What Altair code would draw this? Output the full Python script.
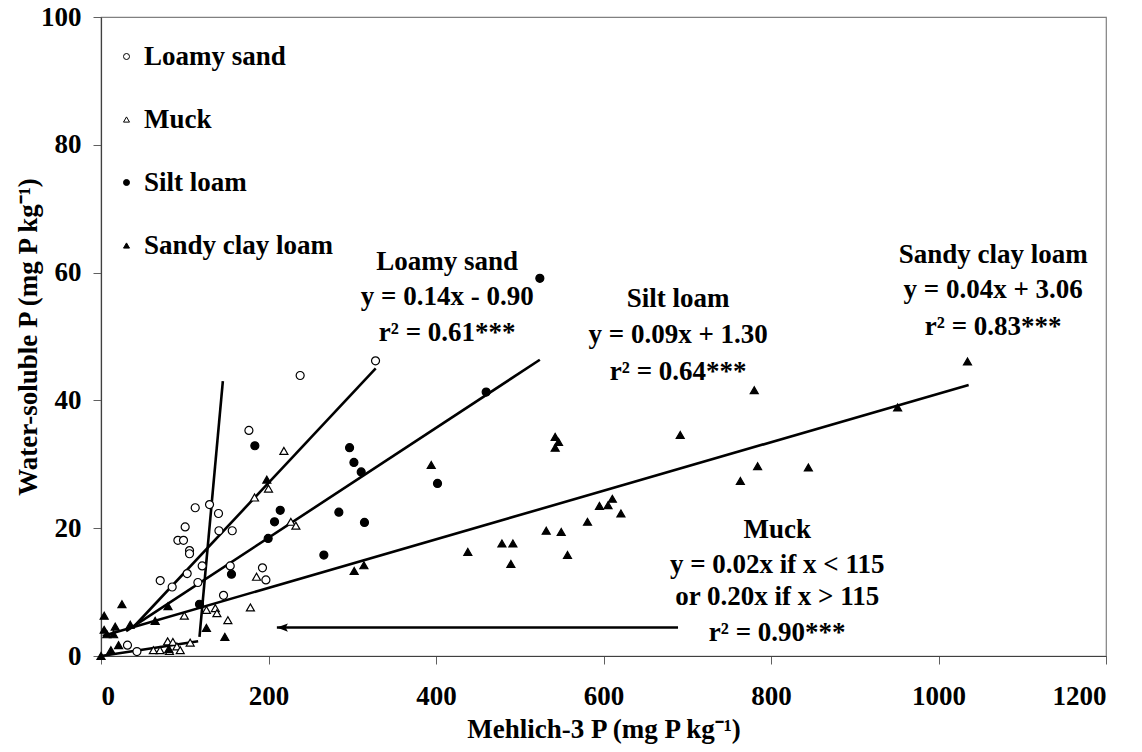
import altair as alt
import pandas as pd

FONT = "Liberation Serif"
FONT_SIZE = 27
SOILS = ["Loamy sand", "Muck", "Silt loam", "Sandy clay loam"]

# Mehlich-3 P (x) and water-soluble P (y), mg P kg-1, by soil type
loamy_sand_x = [31.6, 42.9, 70.7, 85.0, 91.8, 98.5, 100.5, 102.9, 105.7, 105.7, 112.5, 115.7,
                120.8, 129.6, 140.3, 140.8, 146.3, 154.3, 156.7, 176.6, 192.8, 196.9, 237.8, 327.8]
loamy_sand_y = [1.7, 0.7, 11.8, 10.8, 18.1, 18.1, 20.2, 12.9, 16.5, 16.0, 23.2, 11.5,
                14.1, 23.7, 22.3, 19.6, 9.5, 14.1, 19.6, 35.3, 13.8, 11.9, 43.9, 46.2]

muck_x = [62.5, 70.5, 79.6, 81.8, 85.8, 90.6, 94.6, 106.5, 99.5, 125.9, 136.5, 138.4,
          151.5, 178.4, 185.7, 183.3, 200.0, 218.4, 226.7, 232.7]
muck_y = [0.9, 0.9, 2.3, 0.8, 2.2, 1.5, 0.9, 2.1, 6.3, 7.2, 7.5, 6.7,
          5.6, 7.6, 12.4, 24.8, 26.2, 32.1, 21.0, 20.4]

silt_loam_x = [117.6, 155.8, 183.7, 199.6, 207.2, 214.0, 266.1, 284.0, 296.8, 302.0,
               310.7, 314.6, 401.8, 459.9, 524.0]
silt_loam_y = [8.1, 12.8, 32.9, 18.4, 21.0, 22.8, 15.8, 22.5, 32.6, 30.3,
               28.8, 20.9, 27.0, 41.3, 59.1]

sandy_clay_loam_x = [0.0, 3.8, 3.8, 7.0, 15.0, 17.0, 11.8, 21.0, 25.0, 34.9, 64.7, 80.0,
                     81.0, 125.9, 147.9, 198.0, 302.3, 313.9, 394.3, 438.0, 478.7, 489.4,
                     491.8, 531.6, 542.3, 546.3, 542.3, 549.5, 557.0, 580.9, 595.2, 605.4,
                     610.6, 620.8, 691.6, 763.4, 780.0, 784.0, 844.6, 951.2, 1034.6]
sandy_clay_loam_y = [0.0, 6.3, 4.1, 3.4, 3.4, 4.6, 0.9, 1.7, 8.1, 4.9, 5.5, 7.8,
                     1.1, 4.4, 3.0, 27.6, 13.3, 14.2, 29.9, 16.3, 17.6, 14.4,
                     17.6, 19.6, 34.3, 33.5, 32.6, 19.4, 15.8, 21.0, 23.5, 23.6,
                     24.6, 22.3, 34.6, 27.4, 41.6, 29.7, 29.5, 38.9, 46.1]

# Linear fits: slope, intercept and x range of each fitted line
fit_names = ["Loamy sand", "Silt loam", "Sandy clay loam"]
fit_slopes = [0.14, 0.086, 0.038]
fit_intercepts = [-0.90, 1.30, 3.06]
fit_x_from = [38.0, 30.0, 2.0]
fit_x_to = [328.0, 524.0, 1036.0]

# Muck split-line fit: low segment and steep segment
muck_low_slope = 0.02
muck_break_x = 116.0
muck_steep_x = [117.6, 145.5]
muck_steep_y = [3.0, 43.0]

# Arrow pointing at the muck break
arrow_x_tail = 689.0
arrow_x_head = 210.0
arrow_y = 4.46

# Fit annotations (label, x, y)
note_text = ["Loamy sand", "y = 0.14x - 0.90", "r² = 0.61***",
             "Silt loam", "y = 0.09x + 1.30", "r² = 0.64***",
             "Sandy clay loam", "y = 0.04x + 3.06", "r² = 0.83***",
             "Muck", "y = 0.02x if x < 115", " or 0.20x if x > 115", "r² = 0.90***"]
note_x = [413.4, 413.4, 413.4,
          689.2, 689.2, 689.2,
          1065.3, 1065.3, 1065.3,
          807.4, 807.4, 807.4, 807.4]
note_y = [61.7, 56.2, 50.5,
          55.9, 50.2, 44.5,
          62.8, 57.2, 51.5,
          19.7, 14.2, 9.2, 3.6]

rows = []
for soil, xs, ys in [("Loamy sand", loamy_sand_x, loamy_sand_y),
                     ("Muck", muck_x, muck_y),
                     ("Silt loam", silt_loam_x, silt_loam_y),
                     ("Sandy clay loam", sandy_clay_loam_x, sandy_clay_loam_y)]:
    for xv, yv in zip(xs, ys):
        rows.append({"soil": soil, "m3p": xv, "wsp": yv})
points = pd.DataFrame(rows)

line_rows = []
for name, b, a, x0, x1 in zip(fit_names, fit_slopes, fit_intercepts, fit_x_from, fit_x_to):
    line_rows.append({"fit": name, "m3p": x0, "wsp": a + b * x0})
    line_rows.append({"fit": name, "m3p": x1, "wsp": a + b * x1})
line_rows.append({"fit": "Muck low", "m3p": 0.0, "wsp": 0.0})
line_rows.append({"fit": "Muck low", "m3p": muck_break_x, "wsp": muck_low_slope * muck_break_x})
for xv, yv in zip(muck_steep_x, muck_steep_y):
    line_rows.append({"fit": "Muck steep", "m3p": xv, "wsp": yv})
lines_df = pd.DataFrame(line_rows)

arrow_df = pd.DataFrame({"m3p": [arrow_x_head], "m3p2": [arrow_x_tail], "wsp": [arrow_y]})
notes_df = pd.DataFrame({"label": note_text, "m3p": note_x, "wsp": note_y})

X = alt.X("m3p:Q",
          scale=alt.Scale(domain=[0, 1200], nice=False, zero=False),
          axis=alt.Axis(values=[0, 200, 400, 600, 800, 1000, 1200], format="d",
                        title="Mehlich-3 P (mg P kg⁻¹)",
                        labelPadding=19, titlePadding=7))
Y = alt.Y("wsp:Q",
          scale=alt.Scale(domain=[0, 100], nice=False),
          axis=alt.Axis(values=[0, 20, 40, 60, 80, 100], format="d",
                        title="Water-soluble P (mg P kg⁻¹)",
                        labelPadding=12, titlePadding=-2))

legend_style = dict(title=None, symbolStrokeWidth=1)

fits = alt.Chart(lines_df).mark_line(color="black", strokeWidth=2.6).encode(
    x=X, y=Y, detail="fit:N")

scatter = alt.Chart(points).mark_point(
    opacity=1, strokeWidth=1.2, size=64, fillOpacity=1
).encode(
    x=X, y=Y,
    shape=alt.Shape("soil:N",
                    scale=alt.Scale(domain=SOILS,
                                    range=["circle", "triangle-up", "circle", "triangle-up"]),
                    legend=alt.Legend(**legend_style)),
    fill=alt.Fill("soil:N",
                  scale=alt.Scale(domain=SOILS, range=["white", "white", "black", "black"]),
                  legend=alt.Legend(**legend_style)),
    stroke=alt.Stroke("soil:N",
                      scale=alt.Scale(domain=SOILS, range=["black", "black", "black", "black"]),
                      legend=alt.Legend(**legend_style)),
)

arrow_line = alt.Chart(arrow_df).mark_rule(color="black", strokeWidth=2.4).encode(
    x=X, x2="m3p2:Q", y=Y)
arrow_head = alt.Chart(arrow_df).mark_point(
    shape="M0,0 L2,-0.75 L1.6,0 L2,0.75 Z", size=121, filled=True,
    color="black", opacity=1
).encode(x=X, y=Y)

notes = alt.Chart(notes_df).mark_text(
    font=FONT, fontSize=FONT_SIZE, fontWeight="bold", color="black",
    align="center", baseline="middle"
).encode(x=X, y=Y, text="label:N")

chart = alt.layer(fits, scatter, arrow_line, arrow_head, notes).properties(
    width=1005, height=639,
    autosize=alt.AutoSizeParams(type="none"),
    padding={"left": 101, "top": 17, "right": 36, "bottom": 96},
).configure_view(
    stroke="#808080", strokeWidth=1.2
).configure_axis(
    grid=False, domainColor="#404040", domainWidth=1.2, tickColor="#606060", tickSize=8,
    labelFont=FONT, labelFontSize=FONT_SIZE, labelFontWeight="bold", labelColor="black",
    titleFont=FONT, titleFontSize=FONT_SIZE, titleFontWeight="bold", titleColor="black",
).configure_legend(
    orient="none", legendX=12, legendY=26, padding=0,
    labelFont=FONT, labelFontSize=FONT_SIZE, labelFontWeight="bold", labelColor="black",
    labelOffset=4, labelLimit=400, symbolSize=36, rowPadding=35,
)

chart.save("out.html", embed_options={"renderer": "svg", "actions": False})
